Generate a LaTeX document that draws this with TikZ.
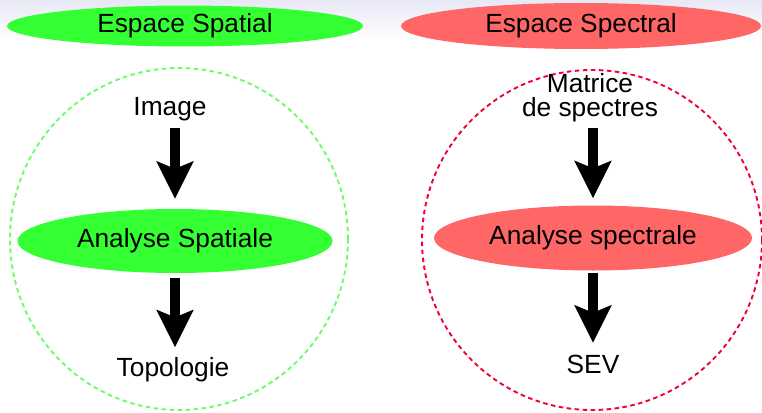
\documentclass[tikz,border=0pt]{standalone}
\usepackage{fontspec}
\setmainfont{Liberation Sans}
\usetikzlibrary{shapes.geometric,arrows.meta,positioning}

\definecolor{vertfond}{RGB}{51,255,51}
\definecolor{rougefond}{RGB}{255,102,102}
\definecolor{vertpointe}{RGB}{102,255,102}
\definecolor{rougepointe}{RGB}{240,0,50}
\definecolor{hautfond}{RGB}{232,232,246}

\begin{document}
\begin{tikzpicture}[
x = 1pt, y = -1pt,
txt/.style={
  inner sep=0pt,
  font=\fontsize{26.3}{24}\selectfont,
  align=center
  },
bulle/.style={
  ellipse,
  draw=none,
  inner sep=0pt,
  font=\fontsize{26.3}{24}\selectfont
  },
zone/.style={
  line width=1.9pt,
  dash pattern=on 4.5pt off 3.5pt
  },
fleche/.style={
  line width=10pt,
  -{Stealth[length=37pt,width=36pt,inset=7pt]}
  },
>=latex
]
\useasboundingbox (0,0) rectangle (762,412);
\shade[top color=hautfond, bottom color=white] (0,0) rectangle (762,40);

% espace spatial
\node[bulle, fill=vertfond, minimum width=356pt, minimum height=41pt] (espsp) at (185,26) {Espace Spatial};
\draw[zone, vertpointe] (179,239) ellipse [x radius=169, y radius=171];
\node[txt, anchor=base] (img) at (170,115) {Image};
\node[bulle, fill=vertfond, minimum width=315pt, minimum height=64pt] (anasp) at (175,241) {Analyse Spatiale};
\node[txt, anchor=base] (topo) at (173,376) {Topologie};

\draw[fleche, shorten <=7.6pt, shorten >=10pt] (img.south -| anasp) -- (anasp.north);
\draw[fleche, shorten <=5pt, shorten >=9.4pt] (anasp.south) -- (anasp.south |- topo.north);

% espace spectral
\node[bulle, fill=rougefond, minimum width=360pt, minimum height=46pt] (espsc) at (581,26) {Espace Spectral};
\draw[zone, rougepointe] (592,240) circle [radius=170];
\node[txt, anchor=north] (mat) at (590,73) {Matrice\\de spectres};
\node[bulle, fill=rougefond, minimum width=318pt, minimum height=65pt] (anasc) at (593,238) {Analyse spectrale};
\node[txt, anchor=base] (sev) at (593,373) {SEV};

\draw[fleche, shorten <=5.6pt, shorten >=7pt] (mat.south -| anasc) -- (anasc.north);
\draw[fleche, shorten <=2pt, shorten >=11.7pt] (anasc.south) -- (anasc.south |- sev.north);

\end{tikzpicture}
\end{document}
